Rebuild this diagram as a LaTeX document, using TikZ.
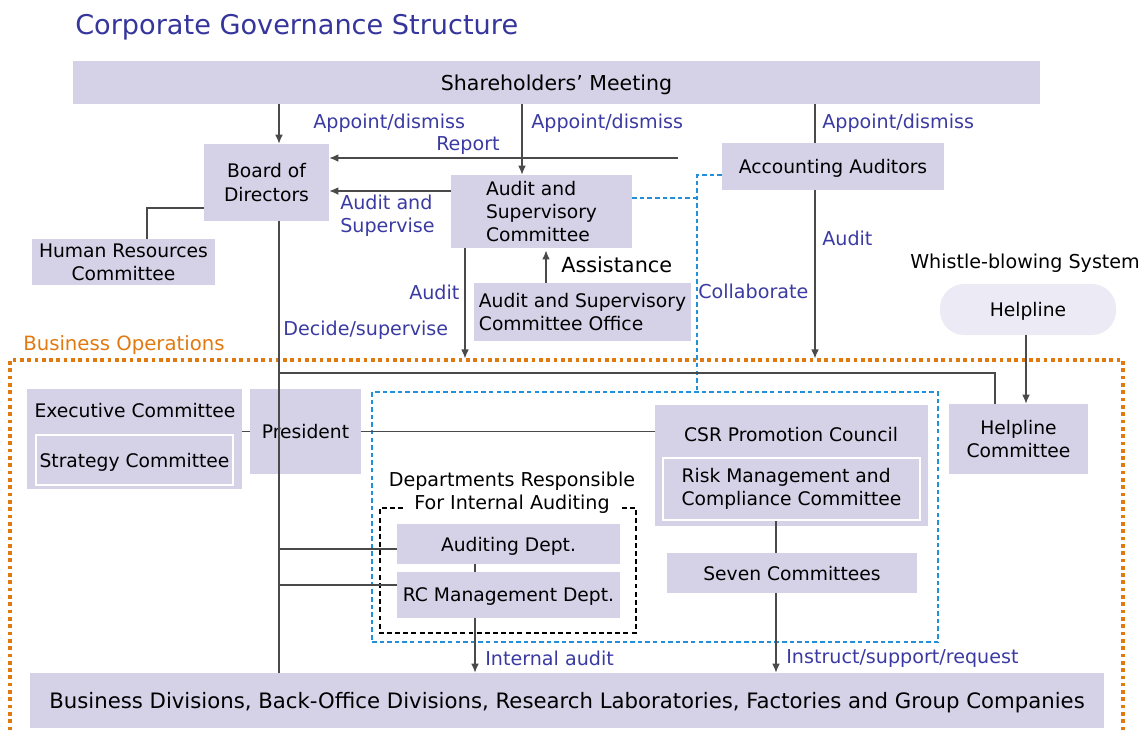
\documentclass[tikz,border=0pt]{standalone}
\usepackage{fontspec}
\setmainfont{DejaVu Sans}
\usetikzlibrary{arrows.meta,fit}

\definecolor{boxfill}{HTML}{D5D1E7}
\definecolor{helpfill}{HTML}{ECEBF5}
\definecolor{lblue}{HTML}{3A3AA2}
\definecolor{titleblue}{HTML}{35359B}
\definecolor{opsorange}{HTML}{E07A10}
\definecolor{collblue}{HTML}{2290D8}
\definecolor{linegray}{HTML}{4A4A4A}

\begin{document}
\begin{tikzpicture}[x=0.025cm, y=-0.025cm, >={Latex[length=6.4pt,width=5.4pt]},
    cell/.style n args={4}{at={({(#1+#3)/2},{(#2+#4)/2})}, minimum width={(#3-#1)*0.025cm}, minimum height={(#4-#2)*0.025cm}},
    box/.style={fill=boxfill, inner sep=0pt, align=center, font=\fontsize{13.3}{16.6}\selectfont},
    oneline/.style={text depth=0pt},
    inbox/.style={box, draw=white, line width=1.4pt},
    lbl/.style={anchor=west, inner sep=0pt, text=lblue, align=left, font=\fontsize{13.6}{16.2}\selectfont},
    txt/.style={anchor=west, inner sep=0pt, font=\fontsize{13.6}{16.2}\selectfont},
    conn/.style={draw=linegray, line width=0.9pt},
    ops/.style={draw=opsorange, line width=2.2pt, dash pattern=on 2.6pt off 2.6pt},
    coll/.style={draw=collblue, line width=1.4pt, dash pattern=on 3.2pt off 2.2pt},
    dept/.style={draw=black, line width=1.5pt, dash pattern=on 3.5pt off 2.3pt}]
        \useasboundingbox (0,0) rectangle (1142,733);

        % Titolo
        \node[anchor=west, inner sep=0pt, text=titleblue, font=\fontsize{19.3}{22}\selectfont] (title) at (75,27) {Corporate Governance Structure};

        % Aree tratteggiate
        \node[ops, fit={(10,360) (1123,780)}, inner sep=0pt] (ops) {};
        \node[anchor=west, inner sep=0pt, text=opsorange, font=\fontsize{14}{16}\selectfont] (opslbl) at (23,345) {Business Operations};
        \node[coll, fit={(372,392) (938,642)}, inner sep=0pt] (csrarea) {};
        \draw[dept] (403,508) -- (380,508) -- (380,633) -- (636,633) -- (636,508) -- (622,508);

        % Riquadri
        \node[box, oneline, cell={73}{61}{1040}{104}, font=\fontsize{14.6}{17}\selectfont] (share) {Shareholders’ Meeting};
        \node[box, cell={204}{144}{329}{221}] (board) {Board of\\Directors};
        \node[box, cell={32}{239}{215}{285}] (hr) {Human Resources\\Committee};
        \node[box, cell={451}{175}{632}{248}, align=left] (asc) {Audit and\\Supervisory\\Committee};
        \node[box, oneline, cell={722}{143}{944}{190}] (acc) {Accounting Auditors};
        \node[box, cell={474}{283}{691}{341}, align=left] (office) {Audit and Supervisory\\Committee Office};
        \node[box, oneline, cell={940}{284}{1116}{335}, fill=helpfill, rounded corners=0.6cm] (help) {Helpline};
        \node[box, cell={27}{389}{242}{489}] (exec) {};
        \node[txt, anchor=center, font=\fontsize{13.3}{16}\selectfont] (execlbl) at (135,411) {Executive Committee};
        \node[inbox, oneline, cell={36}{435}{233}{485}] (strat) {Strategy Committee};
        \node[box, oneline, cell={250}{389}{361}{474}] (pres) {President};
        \node[box, cell={655}{405}{928}{526}] (csr) {};
        \node[txt, anchor=center, font=\fontsize{13.3}{16}\selectfont] (csrlbl) at (791,435) {CSR Promotion Council};
        \node[inbox, cell={663}{458}{920}{520}, align=left] (risk) {Risk Management and\\Compliance Committee};
        \node[box, oneline, cell={667}{553}{917}{593}] (seven) {Seven Committees};
        \node[box, cell={949}{404}{1088}{474}] (hlc) {Helpline\\Committee};
        \node[txt, anchor=center, align=center] (deplbl) at (512,493) {Departments Responsible\\For Internal Auditing};
        \node[box, oneline, cell={397}{524}{620}{564}] (audit) {Auditing Dept.};
        \node[box, oneline, cell={397}{572}{620}{618}] (rc) {RC Management Dept.};
        \node[box, oneline, cell={30}{673}{1104}{728}, font=\fontsize{15.1}{17}\selectfont] (biz) {Business Divisions, Back-Office Divisions, Research Laboratories, Factories and Group Companies};

        % Colonne e punti dei collegamenti
        \coordinate (spine) at (279,0);
        \coordinate (xasc) at (522,0);
        \coordinate (xacc) at (815,0);
        \coordinate (xaudit) at (465,0);
        \coordinate (xassist) at (546,0);
        \coordinate (xhelp) at (1026,0);
        \coordinate (xint) at (475,0);
        \coordinate (xcsr) at (776,0);
        \coordinate (report) at (678,158);
        \coordinate (audsup) at (0,191);
        \coordinate (hrbend) at (147,208);
        \coordinate (collab) at (697,175);
        \coordinate (collmid) at (697,198);
        \coordinate (bus) at (279,373);
        \coordinate (busend) at (995,373);
        \coordinate (tapa) at (279,549);
        \coordinate (tapb) at (279,585);

        % Collegamenti dall'assemblea
        \draw[conn, ->] (share.south -| spine) -- (board.north -| spine);
        \draw[conn, ->] (share.south -| xasc) -- (asc.north -| xasc);
        \draw[conn] (share.south -| xacc) -- (acc.north -| xacc);
        \node[lbl] (ad1) at (313,123) {Appoint/dismiss};
        \node[lbl] (ad2) at (531,123) {Appoint/dismiss};
        \node[lbl] (ad3) at (822,123) {Appoint/dismiss};

        % Report e vigilanza
        \draw[conn, ->] (report) -- (board.east |- report);
        \node[lbl] (replbl) at (436,146) {Report};
        \draw[conn, ->] (asc.west |- audsup) -- (board.east |- audsup);
        \node[lbl] (suplbl) at (340,216) {Audit and\\Supervise};
        \draw[conn] (board.west |- hrbend) -- (hrbend) -- (hr.north -| hrbend);

        % Audit e assistenza
        \draw[conn, ->] (asc.south -| xaudit) -- (ops.north -| xaudit);
        \node[lbl] (audlbl) at (409,292) {Audit};
        \draw[conn, ->, shorten >=1.5pt] (office.north -| xassist) -- (asc.south -| xassist);
        \node[txt, font=\fontsize{14.8}{17}\selectfont] (assist) at (561,265) {Assistance};
        \draw[conn, ->] (acc.south -| xacc) -- (ops.north -| xacc);
        \node[lbl] (acclbl) at (822,238) {Audit};

        % Collaborazione
        \draw[coll] (asc.east |- collmid) -- (collmid);
        \draw[coll] (acc.west |- collab) -- (collab) -- (csrarea.north -| collab);
        \node[lbl] (colllbl) at (698,291) {Collaborate};

        % Segnalazioni
        \node[txt] (whistle) at (910,263) {Whistle-blowing System};
        \draw[conn, ->] (help.south -| xhelp) -- (hlc.north -| xhelp);

        % Linea di comando
        \draw[conn] (board.south -| spine) -- (biz.north -| spine);
        \node[lbl] (declbl) at (283,330) {Decide/supervise};
        \draw[conn] (bus) -- (busend) -- (hlc.north -| busend);
        \draw[conn] (exec.east |- pres.west) -- (pres.west);
        \draw[conn] (pres.east) -- (csr.west |- pres.east);
        \draw[conn] (tapa) -- (audit.west |- tapa);
        \draw[conn] (tapb) -- (rc.west |- tapb);
        \draw[conn] (audit.south -| xint) -- (rc.north -| xint);
        \draw[conn, ->] (rc.south -| xint) -- (biz.north -| xint);
        \node[lbl] (intlbl) at (485,658) {Internal audit};
        \draw[conn] (risk.south -| xcsr) -- (seven.north -| xcsr);
        \draw[conn, ->] (seven.south -| xcsr) -- (biz.north -| xcsr);
        \node[lbl] (instlbl) at (786,658) {Instruct/support/request};

    \end{tikzpicture}
\end{document}
